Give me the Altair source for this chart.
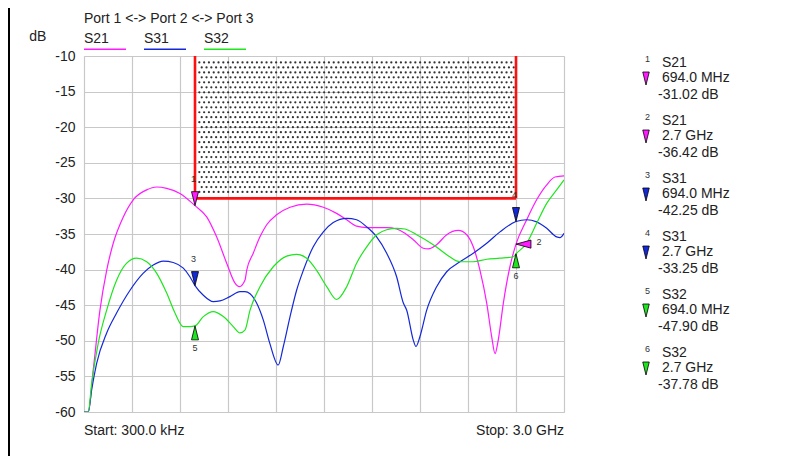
import altair as alt
import pandas as pd
import numpy as np

# ---------------- data ----------------
TRACES = ["S21", "S31", "S32"]
COLORS = ["#ff1aff", "#1428d8", "#1ee61e"]

# frequency in MHz, level in dB
s21_f = [0.3, 27, 58, 100, 142, 183, 246, 308, 392, 454, 517, 600, 694, 767, 829, 892, 944, 971, 1006,
         1017, 1058, 1100, 1142, 1204, 1288, 1392, 1496, 1579, 1642, 1704, 1767, 1892, 1954, 2006, 2058,
         2121, 2152, 2204, 2267, 2339, 2392, 2433, 2475, 2517, 2548, 2569, 2589, 2621, 2662, 2700, 2767,
         2829, 2892, 2944, 3000]
s21_db = [-60.0, -60.0, -54.1, -45.7, -40.1, -36.3, -32.6, -30.2, -28.8, -28.4, -28.6, -29.3, -31.02, -32.6,
          -35.4, -39.1, -41.9, -42.4, -41.5, -40.1, -37.7, -35.4, -33.7, -32.3, -31.25, -30.8, -31.25, -32.1,
          -33.0, -33.9, -34.1, -34.1, -34.3, -34.9, -35.8, -37.0, -37.1, -36.5, -35.1, -34.5, -35.1, -36.8,
          -40.1, -44.7, -49.4, -51.8, -49.9, -44.7, -39.6, -36.42, -33.0, -30.2, -28.1, -27.0, -26.85]

s31_f = [0.3, 27, 48, 79, 142, 204, 288, 371, 433, 496, 558, 621, 662, 694, 746, 808, 850, 912, 975, 1006,
         1038, 1079, 1121, 1162, 1214, 1246, 1288, 1329, 1371, 1433, 1496, 1558, 1642, 1704, 1767, 1829,
         1892, 1954, 1996, 2017, 2058, 2075, 2100, 2142, 2204, 2267, 2350, 2433, 2517, 2600, 2700, 2767,
         2829, 2892, 2954, 2975, 3000]
s31_db = [-60.0, -60.0, -56.9, -53.2, -48.9, -46.1, -42.9, -40.5, -39.35, -38.8, -39.0, -39.8, -41.0, -42.25,
          -43.6, -44.5, -44.4, -43.8, -43.1, -43.1, -43.4, -44.7, -47.1, -50.4, -53.4, -50.8, -46.6, -42.9,
          -40.1, -36.8, -34.7, -33.4, -32.8, -33.0, -34.0, -35.4, -37.7, -41.0, -44.7, -45.7, -49.9, -50.8,
          -49.4, -45.7, -42.4, -40.3, -38.9, -37.7, -36.3, -34.7, -33.25, -33.0, -33.3, -34.2, -35.4, -35.5,
          -34.9]

s32_f = [0.3, 27, 48, 89, 142, 204, 267, 329, 392, 454, 517, 569, 621, 662, 694, 746, 808, 871, 933, 975,
         1006, 1038, 1100, 1183, 1267, 1329, 1392, 1454, 1517, 1579, 1642, 1704, 1767, 1829, 1892, 1954,
         2006, 2079, 2183, 2267, 2350, 2433, 2517, 2600, 2683, 2700, 2767, 2829, 2892, 2954, 3000]
s32_db = [-60.0, -60.0, -56.0, -50.35, -45.7, -41.5, -39.1, -38.4, -38.9, -40.5, -43.3, -46.1, -48.0, -48.0,
          -47.9, -46.6, -45.9, -46.6, -48.0, -48.9, -48.5, -45.7, -42.4, -39.6, -38.1, -37.85, -38.4, -40.1,
          -42.4, -44.2, -42.4, -39.1, -36.8, -35.1, -34.4, -34.2, -34.3, -35.1, -36.5, -37.9, -38.9, -38.9,
          -38.55, -38.4, -38.2, -37.78, -36.3, -33.5, -30.7, -28.8, -27.4]

# markers
mk_num = ["1", "2", "3", "4", "5", "6"]
mk_trace = ["S21", "S21", "S31", "S31", "S32", "S32"]
mk_f = [694.0, 2700.0, 694.0, 2700.0, 694.0, 2700.0]
mk_db = [-31.02, -36.42, -42.25, -33.25, -47.90, -37.78]
mk_flabel = ["694.0 MHz", "2.7 GHz", "694.0 MHz", "2.7 GHz", "694.0 MHz", "2.7 GHz"]
mk_vlabel = ["-31.02 dB", "-36.42 dB", "-42.25 dB", "-33.25 dB", "-47.90 dB", "-37.78 dB"]
mk_kind = ["down", "left", "down", "down", "up", "up"]

# limit mask
lim_f = [694.0, 2700.0]
lim_db = [-10.0, -30.0]

F_START, F_STOP = 0.3, 3000.0
Y_MIN, Y_MAX = -60, -10

# ---------------- tables ----------------
curves = pd.concat([
    pd.DataFrame({"f": s21_f, "db": s21_db, "trace": "S21"}),
    pd.DataFrame({"f": s31_f, "db": s31_db, "trace": "S31"}),
    pd.DataFrame({"f": s32_f, "db": s32_db, "trace": "S32"}),
])
markers = pd.DataFrame({"num": mk_num, "trace": mk_trace, "f": mk_f, "db": mk_db,
                        "flab": mk_flabel, "vlab": mk_vlabel, "kind": mk_kind,
                        "i": list(range(len(mk_num)))})

# dotted texture inside the limit mask (hexagonal dot grid)
dx_step = (F_STOP - F_START) / 480 * 4.8
dy_step = 0.70
rows = []
yv = lim_db[0] - 0.9
r = 0
while yv > lim_db[1] + 0.3:
    off = 0 if r % 2 == 0 else dx_step / 2
    xv = lim_f[0] + dx_step * 0.9 + off
    while xv < lim_f[1] - dx_step * 0.3:
        rows.append((xv, yv))
        xv += dx_step
    yv -= dy_step
    r += 1
dots = pd.DataFrame(rows, columns=["f", "db"])

limit_v = pd.DataFrame({"f": lim_f, "db": [lim_db[0]] * 2, "bot": [lim_db[1]] * 2})
limit_h = pd.DataFrame({"f": [lim_f[0]], "f2": [lim_f[1]], "db": [lim_db[1]]})

top_leg = pd.DataFrame({"trace": TRACES, "i": [0, 1, 2]})

xgrid = [F_START + k * (F_STOP - F_START) / 10 for k in range(11)]
ygrid = list(range(Y_MIN, Y_MAX + 1, 5))

FONT = "Liberation Sans"
color_scale = alt.Scale(domain=TRACES, range=COLORS)

xs = alt.Scale(domain=[F_START, F_STOP], nice=False, zero=False)
ys = alt.Scale(domain=[Y_MIN, Y_MAX], nice=False, zero=False)

x_axis = alt.Axis(values=xgrid, labels=False, ticks=False, domain=False, title=None,
                  grid=True, gridColor="#c8c8c8", gridWidth=1.2)
y_axis = alt.Axis(values=ygrid, ticks=False, domain=False, title=None, grid=True,
                  gridColor="#c8c8c8", gridWidth=1.2, labelFontSize=14, labelFont=FONT,
                  labelColor="#222", labelPadding=9, labelOverlap=False,
                  labelExpr="'' + datum.value", labelBound=False, labelFlush=False)

X = alt.X("f:Q", scale=xs, axis=x_axis)
Y = alt.Y("db:Q", scale=ys, axis=y_axis)

base = alt.Chart(curves)

dot_layer = alt.Chart(dots).mark_circle(size=5, color="#333333", opacity=1).encode(x=X, y=Y)

red_v = alt.Chart(limit_v).mark_rule(color="#ff1010", strokeWidth=2.6).encode(x=X, y=Y, y2="bot:Q")
red_h = alt.Chart(limit_h).mark_rule(color="#ff1010", strokeWidth=2.6).encode(x=X, x2="f2:Q", y=Y)

lines = base.mark_line(strokeWidth=1.2, interpolate="monotone", clip=True).encode(
    x=X, y=Y, color=alt.Color("trace:N", scale=color_scale, legend=None), detail="trace:N")

DOWN = "M-0.25,-1 L0.25,-1 L0,0 Z"
UP = "M-0.25,1 L0.25,1 L0,0 Z"
LEFT = "M0,0 L1.07,-0.29 L1.07,0.29 Z"

mk = alt.Chart(markers)


def tri(kind, shape):
    return mk.transform_filter(alt.datum.kind == kind).mark_point(
        shape=shape, size=784, filled=True, stroke="#000", strokeWidth=0.8, opacity=1, fillOpacity=1
    ).encode(x=X, y=Y, fill=alt.Fill("trace:N", scale=color_scale, legend=None))


tri_down = tri("down", DOWN)
tri_up = tri("up", UP)
tri_left = tri("left", LEFT)


def num_label(kind, dx, dy):
    return mk.transform_filter(alt.datum.kind == kind).mark_text(
        font=FONT, fontSize=9, color="#333", dx=dx, dy=dy, baseline="middle", align="center"
    ).encode(x=X, y=Y, text="num:N")


lab_down = num_label("down", -1.5, -26.5)
lab_up = num_label("up", 0, 22)
lab_left = num_label("left", 23, -2.5)

# ---------- right-hand marker legend ----------
ENTRY = 58
leg = mk.transform_calculate(
    y_num=f"datum.i*{ENTRY}+5.7", y_name=f"datum.i*{ENTRY}+10.7",
    y_tri=f"datum.i*{ENTRY}+29", y_f=f"datum.i*{ENTRY}+26.3", y_v=f"datum.i*{ENTRY}+43")
leg_num = leg.mark_text(font=FONT, fontSize=9, color="#333", align="left", baseline="alphabetic").encode(
    x=alt.value(561), y=alt.Y("y_num:Q", scale=None), text="num:N")
leg_name = leg.mark_text(font=FONT, fontSize=14, color="#222", align="left", baseline="alphabetic").encode(
    x=alt.value(578), y=alt.Y("y_name:Q", scale=None), text="trace:N")
leg_f = leg.mark_text(font=FONT, fontSize=14, color="#222", align="left", baseline="alphabetic").encode(
    x=alt.value(578), y=alt.Y("y_f:Q", scale=None), text="flab:N")
leg_v = leg.mark_text(font=FONT, fontSize=14, color="#222", align="left", baseline="alphabetic").encode(
    x=alt.value(574), y=alt.Y("y_v:Q", scale=None), text="vlab:N")
leg_tri = leg.mark_point(shape=DOWN, size=676, filled=True, stroke="#000", strokeWidth=0.8,
                         opacity=1, fillOpacity=1).encode(
    x=alt.value(562), y=alt.Y("y_tri:Q", scale=None),
    fill=alt.Fill("trace:N", scale=color_scale, legend=None))

# ---------- top legend ----------
tl = alt.Chart(top_leg).transform_calculate(x0="datum.i*60", x1="datum.i*60+42")
top_names = tl.mark_text(font=FONT, fontSize=14, color="#222", align="left", baseline="alphabetic").encode(
    x=alt.X("x0:Q", scale=None), y=alt.value(-12.7), text="trace:N")
top_lines = tl.mark_rule(strokeWidth=1.5).encode(
    x=alt.X("x0:Q", scale=None), x2="x1:Q", y=alt.value(-6.7),
    color=alt.Color("trace:N", scale=color_scale, legend=None))

texts = pd.DataFrame({
    "t": ["Port 1 <-> Port 2 <-> Port 3", "dB", "Start: 300.0 kHz", "Stop: 3.0 GHz"],
    "px": [0, -54.7, 0, 480], "py": [-33.3, -14.7, 379, 379], "al": ["left", "left", "left", "right"]})
txt_left = alt.Chart(texts).transform_filter(alt.datum.al == "left").mark_text(
    font=FONT, fontSize=14, color="#222", align="left", baseline="alphabetic").encode(
    x=alt.X("px:Q", scale=None), y=alt.Y("py:Q", scale=None), text="t:N")
txt_right = alt.Chart(texts).transform_filter(alt.datum.al == "right").mark_text(
    font=FONT, fontSize=14, color="#222", align="right", baseline="alphabetic").encode(
    x=alt.X("px:Q", scale=None), y=alt.Y("py:Q", scale=None), text="t:N")

frame = alt.Chart(top_leg.head(1)).mark_rule(color="#000", strokeWidth=2).encode(
    x=alt.value(-75), y=alt.value(-48), y2=alt.value(400))

chart = alt.layer(
    dot_layer, red_v, red_h, lines, tri_down, tri_up, tri_left,
    lab_down, lab_up, lab_left, leg_num, leg_name, leg_f, leg_v, leg_tri,
    top_names, top_lines, txt_left, txt_right, frame
).resolve_scale(fill="shared", color="shared").properties(
    width=480, height=356,
    autosize=alt.AutoSizeParams(type="none"),
    padding={"left": 76, "top": 48, "right": 218, "bottom": 44},
).configure_view(stroke="#222", strokeWidth=1.4).configure(font=FONT, background="white")

chart.save("out.html", embed_options={"renderer": "svg", "actions": False})
